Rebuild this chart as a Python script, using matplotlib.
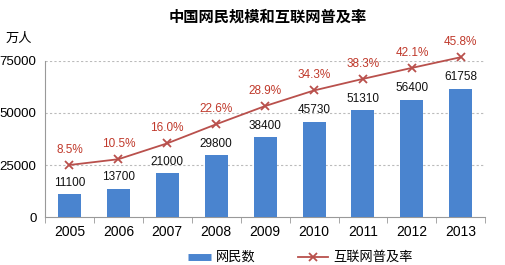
import numpy as np
import matplotlib.pyplot as plt

plt.rcParams['font.family'] = ['Liberation Sans', 'Noto Sans CJK SC', 'DejaVu Sans']

years = ['2005', '2006', '2007', '2008', '2009', '2010', '2011', '2012', '2013']
users = [11100, 13700, 21000, 29800, 38400, 45730, 51310, 56400, 61758]
rate = [8.5, 10.5, 16.0, 22.6, 28.9, 34.3, 38.3, 42.1, 45.8]

bar_color = '#4A84CF'
line_color = '#B9504C'
label_red = '#C0392B'

fig = plt.figure(figsize=(5.05, 2.65), dpi=100)
ax = fig.add_axes([0.089, 0.181, 0.872, 0.589])

x = np.arange(len(years))
ax.bar(x, users, width=0.47, color=bar_color, zorder=3)
for xi, v in zip(x, users):
    ax.text(xi, v + 2600, str(v), ha='center', va='bottom', fontsize=8.5, color='#111111', zorder=5)

ax.set_xlim(-0.5, len(years) - 0.5)
ax.set_ylim(0, 75000)
ax.set_yticks([0, 25000, 50000, 75000])
ax.set_yticklabels(['0', '25000', '50000', '75000'], fontsize=9.5)
ax.set_xticks(x)
ax.set_xticklabels(years, fontsize=10)
ax.tick_params(axis='y', length=0, pad=6)
ax.tick_params(axis='x', length=0, pad=6)
ax.set_xticks(np.arange(-0.5, len(years), 1), minor=True)
ax.tick_params(axis='x', which='minor', length=4, color='#999999', direction='out')
for yv in [25000, 50000, 75000]:
    ax.axhline(yv, color='#bbbbbb', lw=0.8, ls=(0, (2, 2)), zorder=1)
for s in ['top', 'right']:
    ax.spines[s].set_visible(False)
ax.spines['left'].set_color('#999999')
ax.spines['bottom'].set_color('#999999')

ax2 = ax.twinx()
ax2.set_ylim(-9.5, 44.5)
ax2.plot(x, rate, color=line_color, lw=1.3, marker='x', markersize=6, mew=1.3,
         clip_on=False, zorder=4)
for xi, r in zip(x, rate):
    ax2.text(xi, r + 3.2, '%.1f%%' % r, ha='center', va='bottom', fontsize=8.5,
             color=label_red, clip_on=False)
ax2.axis('off')

fig.text(0.53, 0.935, '中国网民规模和互联网普及率', ha='center', va='center',
         fontsize=11, fontweight='bold')
fig.text(0.012, 0.855, '万人', ha='left', va='center', fontsize=9.5)

# legend
lx = fig.add_axes([0, 0, 1, 0.06])
lx.axis('off')
lx.set_xlim(0, 505)
lx.set_ylim(0, 16)
lx.plot([188, 211], [8, 8], color=bar_color, lw=5, solid_capstyle='butt')
lx.text(216, 8, '网民数', va='center', fontsize=9.5)
lx.plot([298, 328], [8, 8], color=line_color, lw=1.3)
lx.plot([313], [8], color=line_color, marker='x', markersize=6, mew=1.3)
lx.text(333, 8, '互联网普及率', va='center', fontsize=9.5)

fig.savefig('out.png', dpi=100)
